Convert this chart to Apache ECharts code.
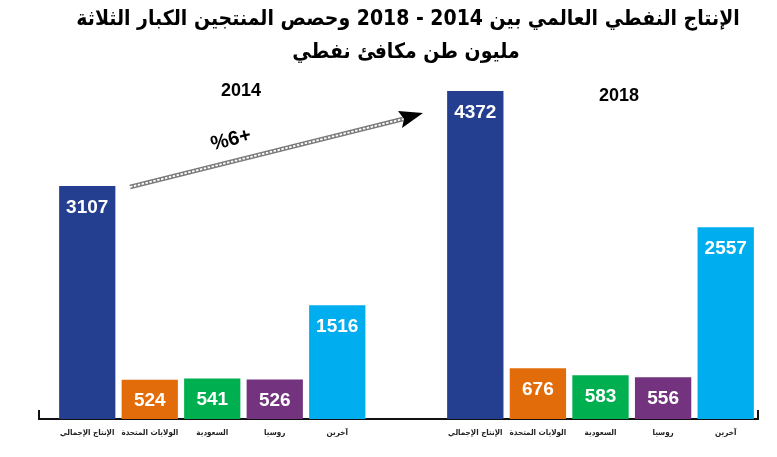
<!DOCTYPE html>
<html>
<head>
<meta charset="utf-8">
<script src="https://cdn.jsdelivr.net/npm/echarts@6/dist/echarts.min.js"></script>
<style>
  html, body { margin: 0; padding: 0; background: #fff; }
  #main { width: 777px; height: 457px; }
</style>
</head>
<body>
<div id="main"></div>
<script>
// الفئات
const categories = ['الإنتاج الإجمالي', 'الولايات المتحدة', 'السعودية', 'روسيا', 'آخرين']
// القيم بالمليون طن مكافئ نفطي
const values2014 = [3107, 524, 541, 526, 1516]
const values2018 = [4372, 676, 583, 556, 2557]
const barColors = ['#243f8f', '#e36c0a', '#00b050', '#73337f', '#00adef']

const arabicFont = '"DejaVu Sans Condensed", "DejaVu Sans"'
const numFont = '"Liberation Sans", Arial'

function barSeries(values, idx) {
  return {
    type: 'bar',
    xAxisIndex: idx,
    yAxisIndex: idx,
    barWidth: '90%',
    data: values.map((v, i) => ({ value: v, itemStyle: { color: barColors[i] } })),
    label: {
      show: true,
      position: 'insideTop',
      distance: 12,
      color: '#fff',
      fontSize: 19,
      fontWeight: 'bold',
      fontFamily: numFont,
    },
  }
}

function xAxis(idx) {
  return {
    type: 'category',
    gridIndex: idx,
    data: categories,
    axisLine: { show: false },
    axisTick: { show: false },
    axisLabel: {
      interval: 0,
      margin: 10,
      fontSize: 8,
      fontWeight: 'bold',
      fontFamily: arabicFont,
      color: '#222',
    },
  }
}

function yAxis(idx) {
  return {
    type: 'value',
    gridIndex: idx,
    min: 0,
    max: 5000,
    show: false,
    splitLine: { show: false },
  }
}

const chart = echarts.init(document.getElementById('main'))

chart.setOption({
  animation: false,
  title: [{
    text: 'الإنتاج النفطي العالمي بين 2014 - 2018 وحصص المنتجين الكبار الثلاثة',
    left: 403,
    textAlign: 'center',
    top: 4,
    textStyle: { fontSize: 21, fontWeight: 'bold', fontFamily: arabicFont, color: '#000' },
  }, {
    text: 'مليون طن مكافئ نفطي',
    left: 401,
    textAlign: 'center',
    top: 37,
    textStyle: { fontSize: 21, fontWeight: 'bold', fontFamily: arabicFont, color: '#000' },
  }],
  grid: [
    { left: 56, width: 312.5, top: 44, bottom: 38 },
    { left: 444, width: 313, top: 44, bottom: 38 },
  ],
  xAxis: [xAxis(0), xAxis(1)],
  yAxis: [yAxis(0), yAxis(1)],
  series: [barSeries(values2014, 0), barSeries(values2018, 1)],
  graphic: [
    // خط القاعدة
    {
      type: 'polyline',
      shape: { points: [[39, 410], [39, 419], [758, 419], [758, 410]] },
      style: { stroke: '#111', lineWidth: 2, fill: null },
    },
    // السهم
    {
      type: 'line',
      shape: { x1: 130, y1: 187, x2: 403, y2: 119 },
      style: { stroke: '#7a7a7a', lineWidth: 4.5 },
    },
    {
      type: 'line',
      shape: { x1: 130, y1: 187, x2: 403, y2: 119 },
      style: { stroke: '#fff', lineWidth: 1.8, lineDash: [2.5, 1.5] },
    },
    {
      type: 'polygon',
      shape: { points: [[398, 111], [423, 113], [402, 128], [404, 119]] },
      style: { fill: '#000' },
    },
    {
      type: 'text',
      x: 231, y: 140,
      rotation: 0.24,
      style: {
        text: '%6+', fontSize: 20, fontWeight: 'bold', fontFamily: 'Liberation Sans',
        fill: '#000', align: 'center', verticalAlign: 'middle',
      },
    },
    {
      type: 'text',
      x: 241, y: 91,
      style: {
        text: '2014', fontSize: 18, fontWeight: 'bold', fontFamily: 'Liberation Sans',
        fill: '#000', align: 'center', verticalAlign: 'middle',
      },
    },
    {
      type: 'text',
      x: 619, y: 96,
      style: {
        text: '2018', fontSize: 18, fontWeight: 'bold', fontFamily: 'Liberation Sans',
        fill: '#000', align: 'center', verticalAlign: 'middle',
      },
    },
  ],
})
</script>
</body>
</html>
